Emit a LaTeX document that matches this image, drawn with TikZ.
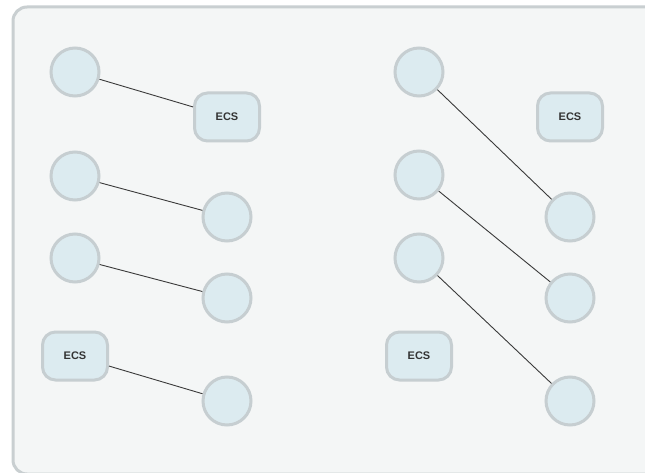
\documentclass[tikz,border=0pt]{standalone}
\usepackage{fontspec}
\setmainfont{Liberation Sans}
\definecolor{panelfill}{HTML}{F4F6F6}
\definecolor{panelline}{HTML}{C9CFD1}
\definecolor{nodefill}{HTML}{DCEBF0}
\definecolor{nodeline}{HTML}{C6CED1}
\definecolor{linkcol}{HTML}{3A3A3A}
\definecolor{textcol}{HTML}{333333}
\begin{document}
\begin{tikzpicture}[x=1pt,y=-1pt,
  host/.style={circle,draw=nodeline,fill=nodefill,line width=3pt,minimum size=48pt,inner sep=0pt},
  ecsbox/.style={rectangle,rounded corners=13pt,draw=nodeline,fill=nodefill,line width=3pt,minimum width=65pt,minimum height=48pt,inner sep=0pt,font=\fontsize{11}{13}\selectfont\bfseries,text=textcol},
  link/.style={draw=linkcol,line width=0.9pt}]
\useasboundingbox (0,0) rectangle (645,473);
\fill[white] (0,0) rectangle (645,473);
\draw[panelline,fill=panelfill,line width=3pt,rounded corners=14pt] (13,7) rectangle (670,474);
% left group
\node[host] (l1) at (75,72) {};
\node[ecsbox] (le1) at (227,117) {ECS};
\node[host] (l2) at (75,176) {};
\node[host] (lr2) at (227,217) {};
\node[host] (l3) at (75,258) {};
\node[host] (lr3) at (227,298) {};
\node[ecsbox] (le4) at (75,356) {ECS};
\node[host] (lr4) at (227,401) {};
% right group
\node[host] (r1) at (419,72) {};
\node[ecsbox] (re1) at (570,117) {ECS};
\node[host] (r2) at (419,175) {};
\node[host] (rr2) at (570,217) {};
\node[host] (r3) at (419,258) {};
\node[host] (rr3) at (570,298) {};
\node[ecsbox] (re4) at (419,356) {ECS};
\node[host] (rr4) at (570,401) {};
% links
\path[link] (l1) -- (le1);
\path[link] (l2) -- (lr2);
\path[link] (l3) -- (lr3);
\path[link] (le4) -- (lr4);
\path[link] (r1) -- (rr2);
\path[link] (r2) -- (rr3);
\path[link] (r3) -- (rr4);
\end{tikzpicture}
\end{document}
